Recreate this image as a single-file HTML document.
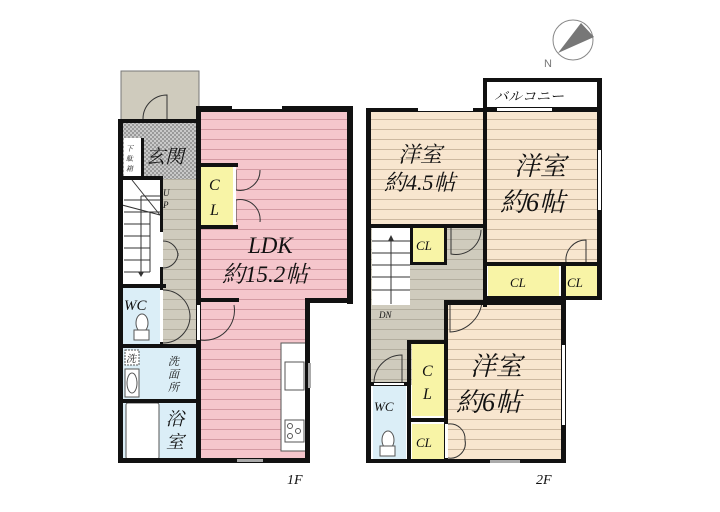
<!DOCTYPE html>
<html><head><meta charset="utf-8"><style>
html,body{margin:0;padding:0;background:#fff;width:720px;height:512px;overflow:hidden}
svg{display:block}
text{font-family:"Liberation Serif","Noto Serif CJK SC",serif;font-style:italic;fill:#111}
</style></head><body>
<svg width="720" height="512" viewBox="0 0 720 512" xmlns="http://www.w3.org/2000/svg">
<defs>
<pattern id="pk" width="10" height="10" patternUnits="userSpaceOnUse"><rect width="10" height="10" fill="#f5c6cc"/><line x1="0" y1="9.5" x2="10" y2="9.5" stroke="#d49aa3" stroke-width="1"/></pattern>
<pattern id="bg" width="10" height="10" patternUnits="userSpaceOnUse"><rect width="10" height="10" fill="#f8e6cf"/><line x1="0" y1="9.5" x2="10" y2="9.5" stroke="#cdb9a0" stroke-width="1"/></pattern>
<pattern id="gr" width="10" height="10" patternUnits="userSpaceOnUse"><rect width="10" height="10" fill="#cfcbbd"/><line x1="0" y1="9.5" x2="10" y2="9.5" stroke="#b3ae9f" stroke-width="1"/></pattern>
<pattern id="ck" width="4" height="4" patternUnits="userSpaceOnUse"><rect width="4" height="4" fill="#c9c9c9"/><rect width="2" height="2" fill="#9a9a9a"/><rect x="2" y="2" width="2" height="2" fill="#9a9a9a"/></pattern>
</defs>

<!-- compass -->
<circle cx="573" cy="40" r="20" fill="none" stroke="#888" stroke-width="1"/>
<polygon points="558,53 581,23 594,37" fill="#777"/>
<text x="544" y="67" style="font-style:normal;font-family:'Liberation Sans',sans-serif;font-size:11px;fill:#777">N</text>

<!-- ===== 1F ===== -->
<rect x="121" y="71" width="78" height="50" fill="#cfcbbd" stroke="#777" stroke-width="1"/>
<path d="M143,119 A24,24 0 0 1 167,95 L167,119" fill="none" stroke="#333" stroke-width="1"/>
<rect x="122" y="121" width="76" height="58" fill="url(#ck)"/>
<rect x="124" y="138" width="17" height="38" fill="#fff"/>
<rect x="200" y="108" width="150" height="193" fill="url(#pk)"/>
<rect x="200" y="300" width="108" height="162" fill="url(#pk)"/>
<rect x="160" y="179" width="38" height="166" fill="url(#gr)"/>
<rect x="122" y="180" width="38" height="100" fill="#fff"/>
<g stroke="#333" stroke-width="1">
<line x1="124" y1="200" x2="160" y2="200"/><line x1="124" y1="212" x2="150" y2="212"/><line x1="124" y1="224" x2="150" y2="224"/><line x1="124" y1="236" x2="150" y2="236"/><line x1="124" y1="248" x2="150" y2="248"/><line x1="124" y1="260" x2="150" y2="260"/><line x1="124" y1="272" x2="150" y2="272"/>
<line x1="141" y1="196" x2="141" y2="272"/><line x1="141" y1="196" x2="160" y2="196"/>
<line x1="150" y1="212" x2="160" y2="212"/><line x1="150" y1="212" x2="150" y2="272"/>
<line x1="132" y1="180" x2="160" y2="215"/><line x1="122" y1="205" x2="160" y2="215"/>
</g>
<polygon points="138,272 144,272 141,277" fill="#333"/>
<rect x="201" y="166" width="34" height="60" fill="#f8f4a6"/>
<rect x="122" y="288" width="40" height="57" fill="#dbeef7"/>
<rect x="122" y="348" width="75" height="52" fill="#dbeef7"/>
<rect x="122" y="403" width="75" height="59" fill="#dbeef7"/>
<rect x="126" y="403" width="33" height="56" fill="#fff" stroke="#555" stroke-width="1" rx="2"/>
<rect x="125" y="350" width="14" height="15" fill="#fff" stroke="#555" stroke-width="1" stroke-dasharray="2,1"/>
<rect x="125" y="369" width="14" height="28" fill="#fff" stroke="#555"/>
<ellipse cx="132" cy="383" rx="5" ry="10" fill="none" stroke="#555"/>
<ellipse cx="142" cy="323" rx="6" ry="9" fill="#fff" stroke="#555"/>
<rect x="134" y="330" width="15" height="10" fill="#fff" stroke="#555"/>
<rect x="281" y="343" width="27" height="108" fill="#fff" stroke="#555"/>
<rect x="285" y="362" width="19" height="28" fill="#fff" stroke="#555"/>
<rect x="285" y="420" width="19" height="22" fill="#fff" stroke="#555"/>
<circle cx="290" cy="426" r="2.5" fill="none" stroke="#555"/><circle cx="298" cy="431" r="2.5" fill="none" stroke="#555"/><circle cx="290" cy="436" r="2.5" fill="none" stroke="#555"/>
<!-- doors -->
<g fill="none" stroke="#333" stroke-width="1">
<path d="M236,170 L236,190 A20,20 0 0 0 260,170"/><path d="M236,222 L236,200 A20,20 0 0 1 260,222"/>
<path d="M163,241 A15,15 0 0 1 178,256"/><path d="M163,268 A15,15 0 0 0 178,253"/>
<path d="M163,290 A27,27 0 0 1 190,316"/><path d="M163,343 A27,27 0 0 0 190,316"/>
<path d="M200,340 A30,30 0 0 0 234,305"/>
</g>
<!-- walls -->
<g fill="#111">
<rect x="118" y="119" width="5" height="344"/>
<rect x="118" y="119" width="82" height="4"/>
<rect x="196" y="106" width="5" height="357"/>
<rect x="196" y="106" width="157" height="6"/>
<rect x="347" y="106" width="6" height="198"/>
<rect x="305" y="298" width="48" height="5"/>
<rect x="305" y="298" width="5" height="165"/>
<rect x="118" y="458" width="192" height="5"/>
<rect x="201" y="298" width="38" height="4"/>
<rect x="118" y="176" width="45" height="4"/>
<rect x="122" y="176" width="3" height="3"/>
<rect x="141" y="138" width="3" height="40"/>
<rect x="122" y="284" width="44" height="4"/>
<rect x="160" y="180" width="3" height="104"/>
<rect x="160" y="284" width="3" height="62"/>
<rect x="118" y="344" width="80" height="4"/>
<rect x="118" y="399" width="80" height="4"/>
<rect x="198" y="163" width="40" height="4"/>
<rect x="198" y="225" width="40" height="4"/>
</g>
<rect x="232" y="106" width="50" height="3" fill="#fff"/>
<rect x="233" y="167" width="3" height="58" fill="#fff"/>
<rect x="160" y="232" width="3" height="35" fill="#fff"/>
<rect x="160" y="290" width="3" height="52" fill="#fff"/>
<rect x="197" y="305" width="3" height="35" fill="#fff"/>
<rect x="308" y="363" width="3" height="25" fill="#aaa"/>
<rect x="237" y="459" width="26" height="3" fill="#aaa"/>
<text x="209" y="190" font-size="16">C</text><text x="210" y="215" font-size="16">L</text>
<text x="248" y="253" font-size="23">LDK</text>
<text x="222" y="282" font-size="23">約15.2帖</text>
<text x="146" y="163" font-size="19">玄関</text>
<text x="126" y="151" font-size="7">下</text><text x="126" y="161" font-size="7">駄</text><text x="126" y="171" font-size="7">箱</text>
<text x="163" y="196" font-size="9">U</text><text x="163" y="208" font-size="9">P</text>
<text x="124" y="310" font-size="15">WC</text>
<text x="126" y="362" font-size="10">洗</text>
<text x="168" y="365" font-size="11">洗</text><text x="168" y="378" font-size="11">面</text><text x="168" y="391" font-size="11">所</text>
<text x="166" y="425" font-size="18">浴</text><text x="166" y="448" font-size="18">室</text>
<text x="287" y="484" font-size="14">1F</text>

<!-- ===== 2F ===== -->
<rect x="485" y="80" width="115" height="29" fill="#fff" stroke="#111" stroke-width="4"/>
<text x="494" y="101" font-size="14">バルコニー</text>
<rect x="370" y="110" width="115" height="115" fill="url(#bg)"/>
<rect x="485" y="110" width="113" height="155" fill="url(#bg)"/>
<rect x="370" y="225" width="115" height="160" fill="url(#gr)"/>
<rect x="370" y="340" width="78" height="45" fill="url(#gr)"/>
<rect x="372" y="228" width="38" height="77" fill="#fff"/>
<g stroke="#333"><line x1="372" y1="241" x2="410" y2="241"/><line x1="372" y1="253" x2="410" y2="253"/><line x1="372" y1="265" x2="410" y2="265"/><line x1="372" y1="277" x2="410" y2="277"/><line x1="372" y1="290" x2="410" y2="290"/><line x1="391" y1="240" x2="391" y2="304"/></g>
<polygon points="388,241 394,241 391,235" fill="#333"/>
<rect x="448" y="302" width="115" height="160" fill="url(#bg)"/>
<rect x="412" y="228" width="32" height="35" fill="#f8f4a6"/>
<rect x="488" y="266" width="71" height="31" fill="#f8f4a6"/>
<rect x="563" y="266" width="34" height="31" fill="#f8f4a6"/>
<rect x="412" y="343" width="34" height="73" fill="#f8f4a6"/>
<rect x="412" y="424" width="34" height="36" fill="#f8f4a6"/>
<rect x="373" y="386" width="33" height="74" fill="#dbeef7"/>
<ellipse cx="388" cy="440" rx="6" ry="9" fill="#fff" stroke="#555"/>
<rect x="380" y="446" width="15" height="10" fill="#fff" stroke="#555"/>
<g fill="none" stroke="#333">
<path d="M451,228 L451,254 A25,25 0 0 0 481,230"/>
<path d="M566,262 A20,20 0 0 1 586,240 L586,262"/>
<path d="M450,302 L450,332 A34,34 0 0 0 482,302"/>
<path d="M374,382 A28,28 0 0 1 402,355 L402,382"/>
<path d="M448,424 A15,15 0 0 1 465,440"/><path d="M448,458 A15,15 0 0 0 465,440"/>
</g>
<g fill="#111">
<rect x="366" y="108" width="5" height="355"/>
<rect x="366" y="108" width="236" height="4"/>
<rect x="483" y="80" width="4" height="227"/>
<rect x="597" y="80" width="5" height="220"/>
<rect x="366" y="224" width="120" height="4"/>
<rect x="485" y="262" width="117" height="4"/>
<rect x="485" y="296" width="117" height="4"/>
<rect x="444" y="300" width="122" height="5"/>
<rect x="561" y="262" width="5" height="201"/>
<rect x="366" y="459" width="200" height="4"/>
<rect x="444" y="228" width="3" height="37"/>
<rect x="410" y="228" width="3" height="37"/>
<rect x="410" y="262" width="37" height="3"/>
<rect x="406" y="305" width="4" height="0"/>
<rect x="407" y="340" width="41" height="4"/>
<rect x="407" y="340" width="4" height="122"/>
<rect x="444" y="300" width="4" height="162"/>
<rect x="407" y="418" width="41" height="4"/>
<rect x="366" y="382" width="45" height="4"/>
</g>
<rect x="418" y="108" width="55" height="3" fill="#fff"/><rect x="497" y="108" width="55" height="3" fill="#fff"/>
<rect x="598" y="150" width="3" height="60" fill="#fff"/>
<rect x="562" y="345" width="3" height="80" fill="#fff"/>
<rect x="445" y="424" width="3" height="34" fill="#fff"/>
<rect x="374" y="383" width="30" height="2" fill="#fff"/>
<rect x="490" y="460" width="30" height="3" fill="#aaa"/>
<text x="398" y="162" font-size="22">洋室</text>
<text x="384" y="190" font-size="22">約4.5帖</text>
<text x="514" y="175" font-size="26">洋室</text>
<text x="500" y="211" font-size="26">約6帖</text>
<text x="470" y="375" font-size="26">洋室</text>
<text x="456" y="411" font-size="26">約6帖</text>
<text x="416" y="250" font-size="13">CL</text>
<text x="510" y="287" font-size="13">CL</text>
<text x="567" y="287" font-size="13">CL</text>
<text x="422" y="376" font-size="16">C</text><text x="423" y="399" font-size="16">L</text>
<text x="416" y="447" font-size="13">CL</text>
<text x="374" y="411" font-size="13">WC</text>
<text x="379" y="318" font-size="9">DN</text>
<text x="536" y="484" font-size="14">2F</text>
</svg>
</body></html>
